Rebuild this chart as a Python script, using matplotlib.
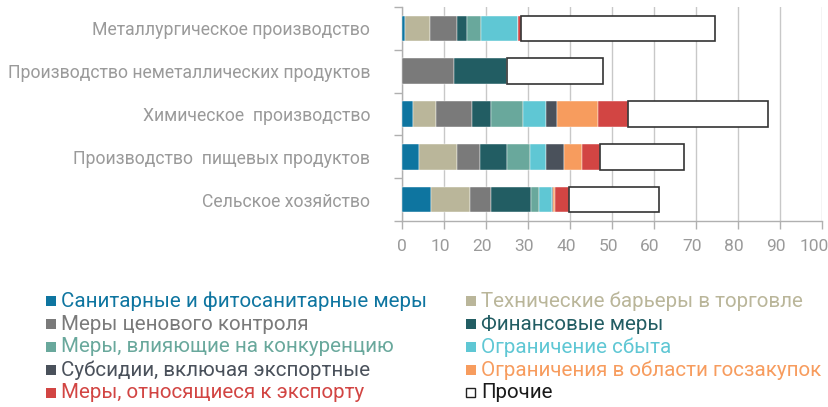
import numpy as np
import matplotlib.pyplot as plt
from matplotlib.patches import Rectangle
from matplotlib.transforms import ScaledTranslation

plt.rcParams['font.family'] = ['Roboto', 'DejaVu Sans']

# sectors, top to bottom
sectors = ['Металлургическое производство',
           'Производство неметаллических продуктов',
           'Химическое  производство',
           'Производство  пищевых продуктов',
           'Сельское хозяйство']

measures = ['Санитарные и фитосанитарные меры',
            'Технические барьеры в торговле',
            'Меры ценового контроля',
            'Финансовые меры',
            'Меры, влияющие на конкуренцию',
            'Ограничение сбыта',
            'Субсидии, включая экспортные',
            'Ограничения в области госзакупок',
            'Меры, относящиеся к экспорту',
            'Прочие']

# values per measure, one entry per sector (same order as sectors)
sanitary = [0.8, 0.0, 2.6, 4.0, 6.9]
technical = [5.8, 0.0, 5.4, 9.2, 9.2]
price_ctrl = [6.6, 12.3, 8.6, 5.4, 5.2]
financial = [2.2, 12.7, 4.6, 6.4, 9.4]
competition = [3.5, 0.0, 7.6, 5.4, 2.0]
distribution = [8.7, 0.0, 5.4, 3.8, 2.9]
subsidies = [0.0, 0.0, 2.8, 4.3, 0.4]
procurement = [0.0, 0.0, 9.7, 4.3, 0.5]
export = [0.7, 0.0, 7.1, 4.3, 3.3]
other = [46.2, 22.9, 33.3, 20.0, 21.5]

series = [sanitary, technical, price_ctrl, financial, competition,
          distribution, subsidies, procurement, export, other]

colors = ['#0E75A0', '#BAB69A', '#7A7A7A', '#225D63', '#69A89C',
          '#5FC7D4', '#4A515B', '#F79C5E', '#D24543', '#FFFFFF']
text_colors = colors[:-1] + ['#1A1A1A']

fig = plt.figure(figsize=(8.29, 4.07), dpi=100)
ax = fig.add_axes([402 / 829, 1 - 221 / 407, 420 / 829, 214 / 407])

y = np.arange(len(sectors))
left = np.zeros(len(sectors))
for vals, col in zip(series, colors):
    vals = np.array(vals)
    if col == '#FFFFFF':
        ax.barh(y, vals, left=left, height=0.6, color=col,
                edgecolor='#333333', linewidth=1.2, zorder=3)
    else:
        ax.barh(y, vals, left=left, height=0.6, color=col,
                edgecolor='white', linewidth=0.3, zorder=3)
    left += vals

ax.set_xlim(0, 100)
ax.set_ylim(len(sectors) - 0.5, -0.5)
ax.set_xticks(np.arange(0, 101, 10))
ax.set_yticks(y)
ax.set_yticklabels(sectors)
ax.set_yticks(np.arange(-0.5, len(sectors)), minor=True)

ax.grid(axis='x', color='#C8C8C8', linewidth=1.0, zorder=0)
for s in ['top', 'right']:
    ax.spines[s].set_visible(False)
for s in ['left', 'bottom']:
    ax.spines[s].set_color('#B0B0B0')
    ax.spines[s].set_linewidth(1.0)

ax.tick_params(axis='y', which='major', length=0, pad=23,
               labelsize=12.7, labelcolor='#9A9A9A')
ax.tick_params(axis='y', which='minor', length=6, color='#B0B0B0', width=1.0)
ax.tick_params(axis='x', length=6, color='#B0B0B0', width=1.0, pad=7,
               labelsize=12.5, labelcolor='#9A9A9A')

# tick labels sit a little left of their ticks in the original
for i, lab in enumerate(ax.get_xticklabels()):
    shift = 0 if i == 0 else (-8 if i == 10 else -4)
    lab.set_transform(lab.get_transform() +
                      ScaledTranslation(shift / 100, 0, fig.dpi_scale_trans))

# legend in two columns
order = [0, 2, 4, 6, 8, 1, 3, 5, 7, 9]
col_x = [46, 466]
row_y = [301, 324, 347, 370, 393]
for k, idx in enumerate(order):
    cx = col_x[k // 5]
    cy = row_y[k % 5]
    if idx == 9:
        fig.patches.append(Rectangle((cx / 829, 1 - (cy + 4) / 407),
                                     9 / 829, 9 / 407, facecolor='white',
                                     edgecolor='#222222', linewidth=1.0,
                                     transform=fig.transFigure))
    else:
        fig.patches.append(Rectangle((cx / 829, 1 - (cy + 5) / 407),
                                     10 / 829, 10 / 407, facecolor=colors[idx],
                                     edgecolor='none',
                                     transform=fig.transFigure))
    fig.text((cx + 15) / 829, 1 - cy / 407, measures[idx], fontsize=14.8,
             color=text_colors[idx], va='center', ha='left')

fig.savefig('out.png', dpi=100)
